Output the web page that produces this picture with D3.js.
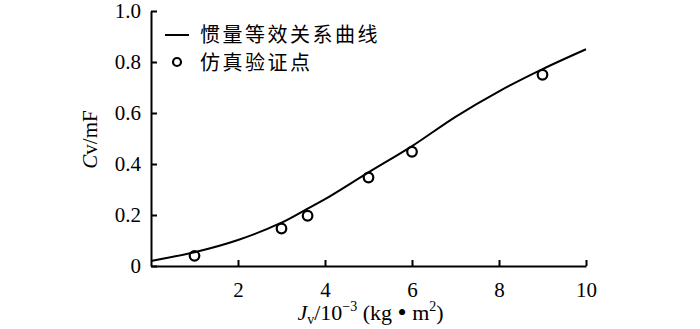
<!DOCTYPE html>
<html>
<head>
<meta charset="utf-8">
<script src="https://cdn.jsdelivr.net/npm/d3@7"></script>
<style>
  body { margin: 0; background: #fff; }
  text { font-family: "Liberation Serif", "Times New Roman", serif; fill: #000; }
  .cjk { font-family: "Noto Sans CJK SC", sans-serif; }
</style>
</head>
<body>
<div id="chart"></div>
<script>
// curve
const curveX = [0, 1, 2, 3, 3.6, 4, 5, 6, 7, 8, 9, 10];
const curveY = [0.02, 0.054, 0.102, 0.17, 0.225, 0.262, 0.367, 0.47, 0.585, 0.685, 0.772, 0.85];

// simulation check points
const pointX = [1, 3, 3.6, 5, 6, 9];
const pointY = [0.04, 0.147, 0.197, 0.347, 0.448, 0.75];

const xTicks = [2, 4, 6, 8, 10];
const yTicks = [0, 0.2, 0.4, 0.6, 0.8, 1.0];
const legendLabels = ["惯量等效关系曲线", "仿真验证点"];

const W = 700, H = 329;
const margin = { top: 11, right: 114, bottom: 63, left: 151 };
const width = W - margin.left - margin.right;
const height = H - margin.top - margin.bottom;

const svg = d3.select("#chart").append("svg")
  .attr("width", W).attr("height", H);
const g = svg.append("g")
  .attr("transform", `translate(${margin.left},${margin.top})`);

const x = d3.scaleLinear().domain([0, 10]).range([0, width]);
const y = d3.scaleLinear().domain([0, 1]).range([height, 0]);

// axes, ticks pointing inward
const xAxis = g.append("g")
  .attr("transform", `translate(0,${height})`)
  .call(d3.axisBottom(x).tickValues(xTicks).tickSizeInner(-6).tickSizeOuter(0).tickPadding(16));
const yAxis = g.append("g")
  .call(d3.axisLeft(y).tickValues(yTicks).tickSizeInner(-6).tickSizeOuter(0).tickPadding(10)
    .tickFormat(d => d === 0 ? "0" : d3.format(".1f")(d)));

[xAxis, yAxis].forEach(a => {
  a.select(".domain").attr("stroke", "#000").attr("stroke-width", 2);
  a.selectAll(".tick line").attr("stroke", "#000").attr("stroke-width", 2);
  a.selectAll(".tick text")
    .style("font-family", '"Liberation Serif", serif')
    .style("font-size", "21px").attr("fill", "#000");
});

// curve
const line = d3.line()
  .x((d, i) => x(curveX[i]))
  .y(d => y(d))
  .curve(d3.curveCatmullRom);
g.append("path")
  .datum(curveY)
  .attr("d", line)
  .attr("fill", "none")
  .attr("stroke", "#000")
  .attr("stroke-width", 2);

// points
g.selectAll(".pt")
  .data(pointY)
  .join("circle")
  .attr("class", "pt")
  .attr("cx", (d, i) => x(pointX[i]))
  .attr("cy", d => y(d))
  .attr("r", 4.8)
  .attr("fill", "none")
  .attr("stroke", "#000")
  .attr("stroke-width", 2.2);

// legend
const lg = g.append("g").attr("transform", "translate(14,24)");
lg.append("line")
  .attr("x1", 0).attr("x2", 24).attr("y1", 0).attr("y2", 0)
  .attr("stroke", "#000").attr("stroke-width", 2);
lg.append("circle")
  .attr("cx", 12).attr("cy", 27).attr("r", 4)
  .attr("fill", "none").attr("stroke", "#000").attr("stroke-width", 2.2);
lg.selectAll(".lt")
  .data(legendLabels)
  .join("text")
  .attr("class", "lt cjk")
  .attr("x", 35)
  .attr("y", (d, i) => i * 28)
  .attr("dy", "0.36em")
  .style("font-size", "20px")
  .style("letter-spacing", "2.5px")
  .text(d => d);

// x title
const xt = svg.append("text")
  .attr("x", margin.left + width / 2 + 2)
  .attr("y", 320)
  .attr("text-anchor", "middle")
  .style("font-size", "22px");
xt.append("tspan").style("font-style", "italic").text("J");
xt.append("tspan").attr("dy", 4).style("font-size", "14px").text("v");
xt.append("tspan").attr("dy", -4).text("/10");
xt.append("tspan").attr("dy", -9).style("font-size", "14px").text("−3");
xt.append("tspan").attr("dy", 9).text(" (kg ");
xt.append("tspan").style("font-size", "26px").attr("dy", 1).text("•");
xt.append("tspan").attr("dy", -1).text(" m");
xt.append("tspan").attr("dy", -9).style("font-size", "14px").text("2");
xt.append("tspan").attr("dy", 9).text(")");

// y title
const yt = svg.append("text")
  .attr("transform", `translate(97,${margin.top + height / 2 + 1}) rotate(-90)`)
  .attr("text-anchor", "middle")
  .style("font-size", "21px");
yt.append("tspan").style("font-style", "italic").text("C");
yt.append("tspan").text("v/mF");
</script>
</body>
</html>
